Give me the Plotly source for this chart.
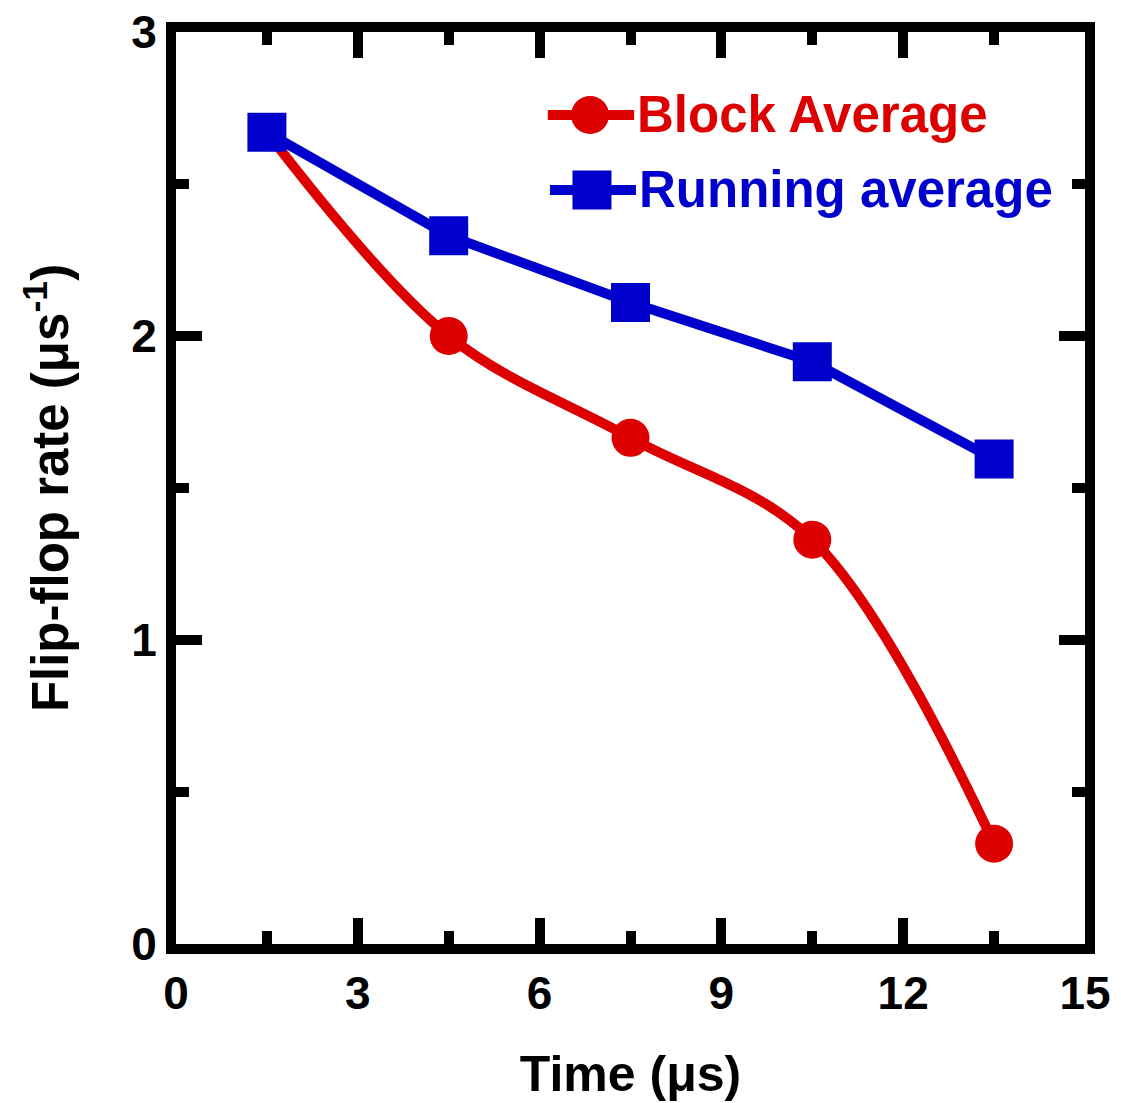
import plotly.graph_objects as go

time_us = [1.5, 4.5, 7.5, 10.5, 13.5]
block_average = [2.67, 2.00, 1.665, 1.33, 0.33]
running_average = [2.67, 2.33, 2.11, 1.915, 1.595]

x_ticks = [0, 3, 6, 9, 12, 15]
y_ticks = [0, 1, 2, 3]

RED = "#DD0000"
BLUE = "#0000CC"
FONT = "Liberation Sans"

fig = go.Figure()
fig.add_trace(go.Scatter(
    x=time_us, y=block_average, mode="lines+markers", name="Block Average",
    line=dict(color=RED, width=10, shape="spline", smoothing=1),
    marker=dict(symbol="circle", size=38, color=RED),
))
fig.add_trace(go.Scatter(
    x=time_us, y=running_average, mode="lines+markers", name="Running average",
    line=dict(color=BLUE, width=10),
    marker=dict(symbol="square", size=39, color=BLUE),
))

axis_common = dict(
    showline=True, linewidth=10, linecolor="black", mirror="ticks",
    ticks="inside", ticklen=26, tickwidth=10, tickcolor="black",
    showgrid=False, zeroline=False, ticklabeloverflow="allow",
    tickfont=dict(family=FONT, size=46, color="black", weight="bold"),
)

fig.update_xaxes(
    range=[0, 15], tickvals=x_ticks,
    minor=dict(dtick=1.5, ticks="inside", ticklen=13, tickwidth=10, tickcolor="black", showgrid=False),
    title=dict(text="Time (μs)", font=dict(family=FONT, size=50, color="black", weight="bold"), standoff=42),
    **axis_common,
)
fig.update_yaxes(
    range=[0, 3], tickvals=y_ticks,
    minor=dict(dtick=0.5, ticks="inside", ticklen=13, tickwidth=10, tickcolor="black", showgrid=False),
    title=dict(text="Flip-flop rate (μs<sup>-1</sup>)", font=dict(family=FONT, size=51, color="black", weight="bold"), standoff=50),
    **axis_common,
)

# manual legend (glyphs in paper coordinates)
legend_items = [
    ("Block Average", RED, "circle", 0.909, 0.409, 0.504, 0.4555, 38),
    ("Running average", BLUE, "square", 0.8268, 0.4114, 0.506, 0.4576, 39),
]
W, H = 909.0, 912.0
for name, col, sym, yp, x0, x1, xc, sz in legend_items:
    fig.add_shape(type="line", xref="paper", yref="paper", x0=x0, x1=x1, y0=yp, y1=yp,
                  line=dict(color=col, width=10))
    hx, hy = sz / 2 / W, sz / 2 / H
    fig.add_shape(type="circle" if sym == "circle" else "rect", xref="paper", yref="paper",
                  x0=xc - hx, x1=xc + hx, y0=yp - hy, y1=yp + hy,
                  fillcolor=col, line=dict(width=0))
    fig.add_annotation(xref="paper", yref="paper", x=x1 + 0.001, y=yp, text=name,
                       showarrow=False, xanchor="left", yanchor="middle",
                       font=dict(family=FONT, size=51, color=col, weight="bold"))

fig.update_layout(
    width=1121, height=1103,
    margin=dict(l=176, r=36, t=32, b=159, autoexpand=False),
    paper_bgcolor="white", plot_bgcolor="white",
    showlegend=False,
)

# remove the default 8px page margin so the figure sits at the window's corner
fig.write_html("out.html", config={"displayModeBar": False},
               post_script="document.body.style.margin='0';")
